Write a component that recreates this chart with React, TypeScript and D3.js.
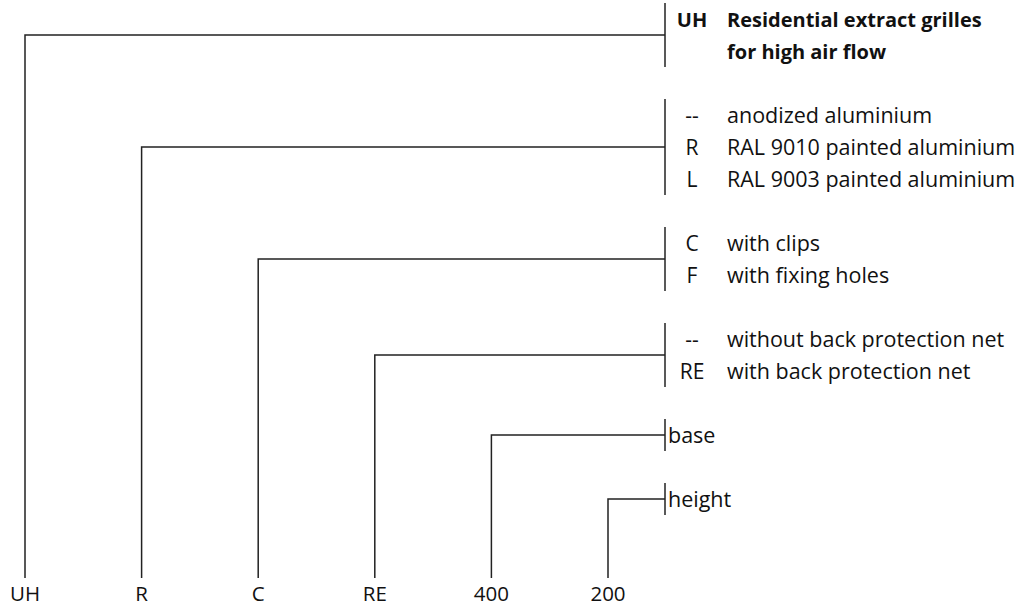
import React from "react";
import * as d3 from "d3";

const codes = ["UH", "R", "C", "RE", "400", "200"];
const groupCodes = [["UH", ""], ["--", "R", "L"], ["C", "F"], ["--", "RE"], [""], [""]];
const groupTexts = [
  ["Residential extract grilles", "for high air flow"],
  ["anodized aluminium", "RAL 9010 painted aluminium", "RAL 9003 painted aluminium"],
  ["with clips", "with fixing holes"],
  ["without back protection net", "with back protection net"],
  ["base"],
  ["height"],
];
const groupStartSlots = [0, 3, 7, 10, 13, 15];
const boldGroup = [true, false, false, false, false, false];
const compactGroup = [false, false, false, false, true, true];

const W = 1021;
const H = 609;

export default function App() {
  const x = d3.scalePoint<string>().domain(codes).range([25, 608]);
  const y = d3.scaleLinear().domain([0, 15]).range([19, 19 + 32 * 15]);
  const bracketX = 665;
  const codeX = 692;
  const textX = 727;
  const bottomY = 578;
  const font = "'Open Sans', sans-serif";
  const stroke = "#222";

  return (
    <svg width={W} height={H} style={{ position: "absolute", left: 0, top: 0, background: "#fff" }}>
      {codes.map((c, i) => {
        const rows = groupTexts[i].length;
        const s0 = groupStartSlots[i];
        const cy = (y(s0) + y(s0 + rows - 1)) / 2;
        const half = (rows * 32) / 2;
        const cx = x(c)!;
        const bold = boldGroup[i];
        return (
          <g key={c}>
            <path
              d={`M${cx},${bottomY} V${cy} H${bracketX}`}
              fill="none"
              stroke={stroke}
              strokeWidth={1.5}
            />
            <line x1={bracketX} x2={bracketX} y1={cy - half} y2={cy + half} stroke={stroke} strokeWidth={1.5} />
            <text x={cx} y={601} textAnchor="middle" fontFamily={font} fontSize={20.5} fill="#111">
              {c}
            </text>
            {groupTexts[i].map((t, j) => {
              const ty = y(s0 + j) + 7.5;
              return (
                <g key={j}>
                  {groupCodes[i][j] ? (
                    <text
                      x={codeX}
                      y={ty}
                      textAnchor="middle"
                      fontFamily={font}
                      fontSize={bold ? 20 : 21}
                      fontWeight={bold ? 700 : 400}
                      fill="#111"
                    >
                      {groupCodes[i][j]}
                    </text>
                  ) : null}
                  <text
                    x={compactGroup[i] ? bracketX + 3 : textX}
                    y={ty}
                    fontFamily={font}
                    fontSize={bold ? 20 : 21.5}
                    fontWeight={bold ? 700 : 400}
                    fill="#111"
                  >
                    {t}
                  </text>
                </g>
              );
            })}
          </g>
        );
      })}
    </svg>
  );
}
